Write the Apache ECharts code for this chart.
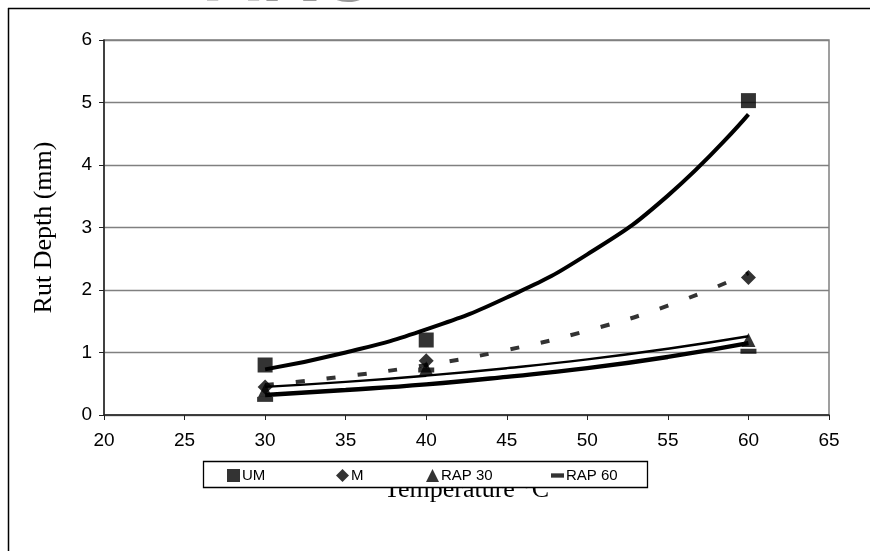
<!DOCTYPE html>
<html>
<head>
<meta charset="utf-8">
<script src="https://cdn.jsdelivr.net/npm/echarts@6/dist/echarts.min.js"></script>
<style>html,body{margin:0;padding:0;background:#fff;}#c{width:870px;height:551px;}</style>
</head>
<body>
<div id="c"></div>
<script>
// Measured points (temperature °C, rut depth mm)
var temps = [30, 40, 60];
var umValues = [0.8, 1.2, 5.03];
var mValues = [0.45, 0.87, 2.2];
var rap30Values = [0.4, 0.75, 1.2];
var rap60Values = [0.25, 0.72, 1.02];

// Trendline values
var trendTemps = [30, 35, 40, 45, 50, 55, 60];
var umTrend = [0.73, 1.00, 1.37, 1.88, 2.57, 3.51, 4.81];
var mTrend = [0.48, 0.62, 0.80, 1.04, 1.35, 1.75, 2.27];
var rap30Trend = [0.45, 0.53, 0.63, 0.75, 0.89, 1.06, 1.26];
var rap60Trend = [0.32, 0.40, 0.49, 0.61, 0.75, 0.93, 1.15];

var xTicks = {min: 20, max: 65, interval: 5};
var yTicks = {min: 0, max: 6, interval: 1};

function pairs(xs, ys) { return xs.map(function (x, i) { return [x, ys[i]]; }); }

var dashPath = 'path://M0,0h3v1h-3z';
var chart = echarts.init(document.getElementById('c'));

function legendAt(name, left, icon) {
  return {
    data: [{name: name, icon: icon}],
    left: left, top: 468, padding: 0, z: 20,
    itemWidth: 13, itemHeight: 13, itemGap: 0,
    selectedMode: false,
    textStyle: {fontFamily: 'Liberation Sans, Arial', fontSize: 15, color: '#000', padding: [0, 0, 0, -3]}
  };
}

chart.setOption({
  animation: false,
  backgroundColor: '#fff',
  grid: {left: 104, right: 41, top: 40, bottom: 136, show: true, borderColor: '#808080', borderWidth: 1.5, backgroundColor: 'transparent'},
  xAxis: {
    type: 'value', min: xTicks.min, max: xTicks.max, interval: xTicks.interval,
    name: 'Temperature °C', nameLocation: 'middle', nameGap: 62,
    nameTextStyle: {fontFamily: 'Liberation Serif, Times New Roman', fontSize: 26, color: '#000'},
    axisLine: {show: true, lineStyle: {color: '#222', width: 1.5}},
    axisTick: {show: true, length: 5, lineStyle: {color: '#222'}},
    axisLabel: {fontFamily: 'Liberation Sans, Arial', fontSize: 19, color: '#000', margin: 16},
    splitLine: {show: false}
  },
  yAxis: {
    type: 'value', min: yTicks.min, max: yTicks.max, interval: yTicks.interval,
    name: 'Rut Depth (mm)', nameLocation: 'middle', nameGap: 47,
    nameTextStyle: {fontFamily: 'Liberation Serif, Times New Roman', fontSize: 26, color: '#000'},
    axisLine: {show: true, lineStyle: {color: '#222', width: 1.5}},
    axisTick: {show: true, length: 5, lineStyle: {color: '#222'}},
    axisLabel: {fontFamily: 'Liberation Sans, Arial', fontSize: 19, color: '#000', margin: 12},
    splitLine: {show: true, lineStyle: {color: '#808080', width: 1.3}}
  },
  legend: [
    legendAt('UM', 227, 'rect'),
    legendAt('M', 336, 'diamond'),
    legendAt('RAP 30', 426, 'triangle'),
    legendAt('RAP 60', 551, dashPath)
  ],
  graphic: [
    {type: 'text', left: 205, top: -60, z: 0, style: {text: 'AKO', font: 'bold 78px Liberation Sans', fill: '#999'}},
    {type: 'line', shape: {x1: 8, y1: 8.5, x2: 870, y2: 8.5}, style: {stroke: '#000', lineWidth: 1.5}, z: 1},
    {type: 'line', shape: {x1: 8.5, y1: 8, x2: 8.5, y2: 551}, style: {stroke: '#000', lineWidth: 1.5}, z: 1},
    {type: 'rect', shape: {x: 203.5, y: 461.5, width: 444, height: 26}, style: {fill: '#fff', stroke: '#000', lineWidth: 1.3}, z: 10}
  ],
  series: [
    {name: 'UM trend', type: 'line', smooth: true, showSymbol: false, silent: true, data: pairs(trendTemps, umTrend), lineStyle: {color: '#000', width: 4}, z: 3},
    {name: 'M trend', type: 'line', smooth: true, showSymbol: false, silent: true, data: pairs(trendTemps, mTrend), lineStyle: {color: '#333', width: 4, type: [9, 22]}, z: 3},
    {name: 'RAP 30 trend', type: 'line', smooth: true, showSymbol: false, silent: true, data: pairs(trendTemps, rap30Trend), lineStyle: {color: '#000', width: 2.5}, z: 3},
    {name: 'RAP 60 trend', type: 'line', smooth: true, showSymbol: false, silent: true, data: pairs(trendTemps, rap60Trend), lineStyle: {color: '#000', width: 4.5}, z: 3},
    {name: 'UM', type: 'scatter', symbol: 'rect', symbolSize: 15, itemStyle: {color: '#000'}, data: pairs(temps, umValues), z: 4},
    {name: 'M', type: 'scatter', symbol: 'diamond', symbolSize: 15, itemStyle: {color: '#000'}, data: pairs(temps, mValues), z: 4},
    {name: 'RAP 30', type: 'scatter', symbol: 'triangle', symbolSize: 14, itemStyle: {color: '#000'}, data: pairs(temps, rap30Values), z: 4},
    {name: 'RAP 60', type: 'scatter', symbol: dashPath, symbolSize: [16, 5], itemStyle: {color: '#000'}, data: pairs(temps, rap60Values), z: 4}
  ]
});
</script>
</body>
</html>
